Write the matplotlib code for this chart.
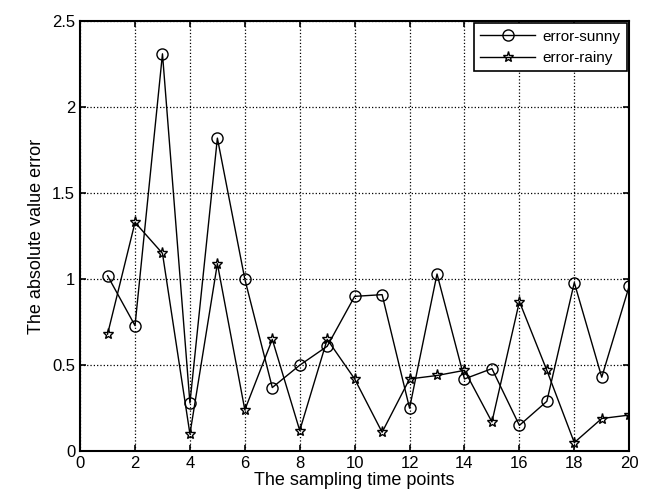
import numpy as np
import matplotlib.pyplot as plt

plt.rcParams['font.family'] = ['Liberation Sans', 'DejaVu Sans']

t = np.arange(1, 21)
err_sunny = [1.02, 0.73, 2.31, 0.28, 1.82, 1.00, 0.37, 0.50, 0.61, 0.90,
             0.91, 0.25, 1.03, 0.42, 0.48, 0.15, 0.29, 0.98, 0.43, 0.96]
err_rainy = [0.68, 1.33, 1.15, 0.10, 1.09, 0.24, 0.65, 0.12, 0.65, 0.42,
             0.11, 0.42, 0.44, 0.47, 0.17, 0.87, 0.47, 0.05, 0.19, 0.21]

fig = plt.figure(figsize=(6.46, 5.03), dpi=100)
ax = fig.add_axes([0.124, 0.103, 0.850, 0.855])

ax.plot(t, err_sunny, '-', color='black', lw=1.0, marker='o', ms=8,
        mfc='none', mec='black', mew=1.0, label='error-sunny')
ax.plot(t, err_rainy, '-', color='black', lw=1.0, marker='*', ms=8,
        mfc='none', mec='black', mew=1.0, label='error-rainy')

ax.set_xlim(0, 20)
ax.set_ylim(0, 2.5)
ax.set_xticks(range(0, 21, 2))
ax.set_yticks([0, 0.5, 1, 1.5, 2, 2.5])
ax.set_yticklabels(['0', '0.5', '1', '1.5', '2', '2.5'])
ax.grid(True, linestyle=':', color='black', lw=0.9)
ax.tick_params(direction='in', top=True, right=True, labelsize=12, length=4,
               width=1.2)
for s in ax.spines.values():
    s.set_linewidth(1.5)

ax.set_xlabel('The sampling time points', fontsize=13, labelpad=1)
ax.set_ylabel('The absolute value error', fontsize=13, labelpad=5)

leg = ax.legend(loc='upper right', fontsize=11, fancybox=False,
                edgecolor='black', framealpha=1, borderaxespad=0.15,
                handlelength=3.6, labelspacing=0.5, handletextpad=0.5)
leg.get_frame().set_linewidth(1.2)

fig.savefig('out.png', dpi=100)
